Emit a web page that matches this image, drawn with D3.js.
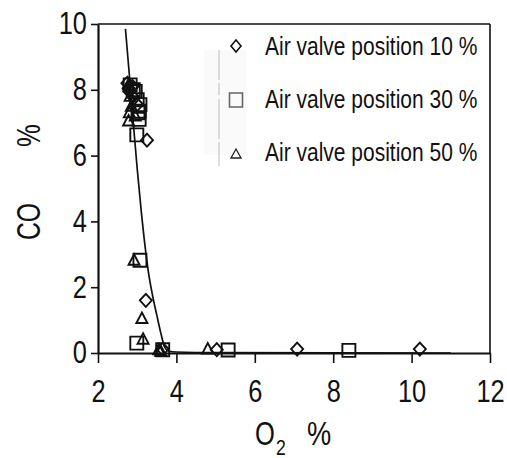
<!DOCTYPE html>
<html>
<head>
<meta charset="utf-8">
<script src="https://cdn.jsdelivr.net/npm/d3@7"></script>
<style>
  html, body { margin: 0; padding: 0; background: #fff; }
  svg { display: block; font-family: "Liberation Sans", Arial, sans-serif; }
</style>
</head>
<body>
<svg id="chart" width="507" height="458"></svg>
<script>
// Measured CO vs O2 for three air valve settings
const valve10 = [[2.75, 8.2], [2.8, 7.95], [2.78, 8.05], [2.88, 8.1], [2.92, 7.75], [3.0, 7.55], [3.25, 6.47],
                 [3.22, 1.6], [3.65, 0.12], [5.03, 0.1], [7.08, 0.12], [10.21, 0.12]];
const valve30 = [[2.82, 8.15], [2.9, 8.0], [2.95, 7.95], [3.0, 7.7], [3.07, 7.55], [3.05, 7.35], [3.02, 7.3], [3.05, 7.1],
                 [2.99, 6.63], [3.07, 2.82], [2.99, 0.3], [3.65, 0.1], [5.32, 0.09], [8.4, 0.08]];
const valve50 = [[2.78, 8.15], [2.82, 7.8], [2.85, 7.5], [2.8, 7.3], [2.78, 7.05], [2.95, 7.2], [2.92, 2.82], [3.12, 1.05],
                 [3.15, 0.42], [3.55, 0.1], [3.6, 0.05], [4.8, 0.12]];

// Fitted trend curve
const fitO2 = [2.70, 2.80, 2.90, 3.00, 3.10, 3.20, 3.30, 3.40, 3.50, 3.60, 3.70, 3.80, 4.00, 5.0, 11.0];
const fitCO = [9.85, 8.45, 7.0, 5.6, 4.35, 3.25, 2.35, 1.7, 1.15, 0.62, 0.18, 0.06, 0.03, 0.01, 0.0];

const xTicks = [2, 4, 6, 8, 10, 12];
const yTicks = [0, 2, 4, 6, 8, 10];
const legendLabels = ["Air valve position 10 %", "Air valve position 30 %", "Air valve position 50 %"];

const svg = d3.select("#chart");
const plotL = 98, plotR = 490, plotT = 24, plotB = 353;

const x = d3.scaleLinear().domain([2, 12]).range([plotL, plotR]);
const y = d3.scaleLinear().domain([0, 10]).range([plotB, plotT]);

// frame: top and right edges
svg.append("line").attr("x1", plotL).attr("x2", plotR).attr("y1", plotT).attr("y2", plotT)
  .attr("stroke", "#111").attr("stroke-width", 1.6);
svg.append("line").attr("x1", plotR).attr("x2", plotR).attr("y1", plotT).attr("y2", plotB)
  .attr("stroke", "#111").attr("stroke-width", 1.6);

// x axis
const xAxis = svg.append("g").attr("transform", `translate(0,${plotB})`)
  .call(d3.axisBottom(x).tickValues(xTicks).tickSize(10).tickSizeOuter(0).tickFormat(d3.format("d")));
xAxis.select(".domain").attr("stroke", "#111").attr("stroke-width", 2);
xAxis.selectAll(".tick line").attr("stroke", "#111").attr("stroke-width", 1.6);
xAxis.selectAll(".tick text")
  .attr("y", 49).attr("dy", null)
  .attr("transform", "scale(0.82,1)")
  .attr("font-size", 31).attr("fill", "#111")
  .attr("font-family", "'Liberation Sans', Arial, sans-serif");

// y axis
const yAxis = svg.append("g").attr("transform", `translate(${plotL},0)`)
  .call(d3.axisLeft(y).tickValues(yTicks).tickSize(7).tickSizeOuter(0).tickFormat(d3.format("d")));
yAxis.select(".domain").attr("stroke", "#111").attr("stroke-width", 2.2);
yAxis.selectAll(".tick line").attr("stroke", "#111").attr("stroke-width", 1.6);
yAxis.selectAll(".tick text")
  .attr("x", -13.5)
  .attr("transform", "scale(0.82,1)")
  .attr("font-size", 31).attr("fill", "#111")
  .attr("font-family", "'Liberation Sans', Arial, sans-serif");

// axis titles
svg.append("text").attr("transform", "translate(255,445) scale(0.75,1)")
  .attr("font-size", 34).attr("fill", "#111").text("O");
svg.append("text").attr("transform", "translate(276,455) scale(0.8,1)")
  .attr("font-size", 22).attr("fill", "#111").text("2");
svg.append("text").attr("transform", "translate(307,445) scale(0.8,1)")
  .attr("font-size", 34).attr("fill", "#111").text("%");

svg.append("text").attr("transform", "translate(40,240) rotate(-90) scale(0.75,1)")
  .attr("font-size", 33).attr("fill", "#111").text("CO");
svg.append("text").attr("transform", "translate(40,147) rotate(-90) scale(0.78,1)")
  .attr("font-size", 33).attr("fill", "#111").text("%");

// trend curve
const fitPts = fitO2.map((o, i) => [o, fitCO[i]]);
svg.append("path")
  .datum(fitPts)
  .attr("fill", "none").attr("stroke", "#111").attr("stroke-width", 1.7)
  .attr("d", d3.line().x(d => x(d[0])).y(d => y(d[1])).curve(d3.curveMonotoneX));

// marker shapes
const shape = draw => d3.symbol().type({ draw }).size(1)();
const diamond = shape(ctx => { ctx.moveTo(0, -6.5); ctx.lineTo(6, 0); ctx.lineTo(0, 6.5); ctx.lineTo(-6, 0); ctx.closePath(); });
const square = shape(ctx => { ctx.moveTo(-6.5, -6.5); ctx.lineTo(6.5, -6.5); ctx.lineTo(6.5, 6.5); ctx.lineTo(-6.5, 6.5); ctx.closePath(); });
const triangle = shape(ctx => { ctx.moveTo(0, -6); ctx.lineTo(5.5, 4.5); ctx.lineTo(-5.5, 4.5); ctx.closePath(); });

function plot(data, path) {
  svg.append("g").selectAll("path").data(data).join("path")
    .attr("d", path)
    .attr("transform", d => `translate(${x(d[0])},${y(d[1])})`)
    .attr("fill", "none").attr("stroke", "#111").attr("stroke-width", 1.9);
}
plot(valve10, diamond);
plot(valve30, square);
plot(valve50, triangle);

// legend
svg.append("rect").attr("x", 204).attr("y", 50).attr("width", 43).attr("height", 105)
  .attr("fill", "#fafafa");
svg.append("line").attr("x1", 219).attr("x2", 219).attr("y1", 50).attr("y2", 166)
  .attr("stroke", "#bbb").attr("stroke-width", 1).attr("stroke-dasharray", "30,3,12,4,40,3");

const legendShapes = [
  { path: shape(ctx => { ctx.moveTo(0, -6); ctx.lineTo(5, 0); ctx.lineTo(0, 6); ctx.lineTo(-5, 0); ctx.closePath(); }), color: "#111", w: 1.6 },
  { path: shape(ctx => { ctx.moveTo(-6.5, -7); ctx.lineTo(6.5, -7); ctx.lineTo(6.5, 7); ctx.lineTo(-6.5, 7); ctx.closePath(); }), color: "#666", w: 1.6 },
  { path: shape(ctx => { ctx.moveTo(0, -5); ctx.lineTo(5, 4); ctx.lineTo(-5, 4); ctx.closePath(); }), color: "#222", w: 1.3 }
];
const legendRows = [46, 100, 154];
const legendBase = [55, 108, 161];

const lg = svg.append("g");
legendLabels.forEach((lab, i) => {
  lg.append("path").attr("d", legendShapes[i].path)
    .attr("transform", `translate(236,${legendRows[i]})`)
    .attr("fill", "none").attr("stroke", legendShapes[i].color).attr("stroke-width", legendShapes[i].w);
  lg.append("text").attr("transform", `translate(265,${legendBase[i]}) scale(0.84,1)`)
    .attr("font-size", 25).attr("fill", "#111").text(lab);
});
</script>
</body>
</html>
